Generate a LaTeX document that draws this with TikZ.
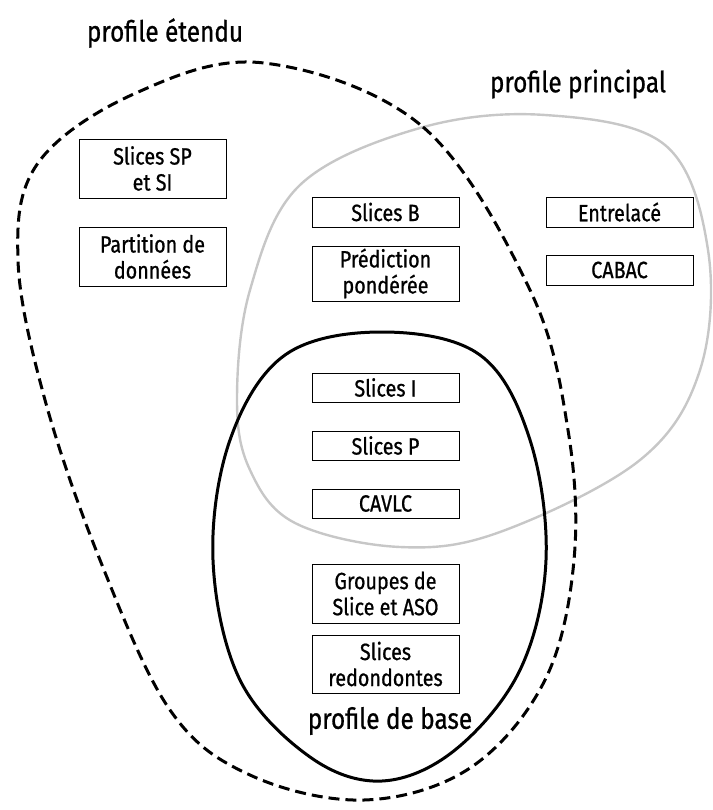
\documentclass[tikz,border=0pt]{standalone}
\usepackage{fontspec}
\setmainfont{Fira Sans}[FakeStretch=0.84, FakeBold=0.8]
\usepackage{tikz}

\begin{document}
\begin{tikzpicture}[x=1pt, y=-1pt,
		feature/.style={draw, thick, fill=white, align=center, inner sep=0pt,
			minimum width=147pt, font=\fontsize{23.5}{26}\selectfont},
		profil/.style={font=\fontsize{29}{30}\selectfont}]
			\useasboundingbox (0,0) rectangle (712,810);
			% Main profile (gray)
			\draw[line width=2.4pt, black!22] plot[smooth cycle, tension=0.6] coordinates {
				(545,115) (665,145) (708,250) (700,370) (640,460) (500,532) (400,547)
				(295,523) (250,470) (237,400) (250,290) (300,185) (420,128)};
			% Extended profile (dashed)
			\draw[line width=3pt, dash pattern=on 11pt off 6pt] plot[smooth cycle, tension=0.6] coordinates {
				(264,63) (423,127) (530,290) (568,430) (574,560) (545,680) (470,768)
				(364,800) (250,775) (170,710) (100,560) (45,400) (18,260) (38,163) (136,93)};
			% Baseline profile (solid)
			\draw[line width=3pt] plot[smooth cycle, tension=0.6] coordinates {
				(382,332) (480,355) (530,440) (546,560) (520,670) (455,750) (382,781)
				(310,757) (240,680) (213,560) (230,440) (285,355)};
			% Boxes
			\node[feature, minimum height=59pt] (spsi) at (152.5,168.5) {Slices SP\\et SI};
			\node[feature, minimum height=59pt] (partition) at (152.5,256.5) {Partition de\\données};
			\node[feature, minimum height=30pt] (sliceb) at (385.5,212) {Slices B};
			\node[feature, minimum height=55pt] (prediction) at (385.5,273.5) {Prédiction\\pondérée};
			\node[feature, minimum height=30pt] (entrelace) at (619.5,212) {Entrelacé};
			\node[feature, minimum height=30pt] (cabac) at (619.5,270) {CABAC};
			\node[feature, minimum height=29pt] (slicei) at (385.5,387.5) {Slices I};
			\node[feature, minimum height=29pt] (slicep) at (385.5,445.5) {Slices P};
			\node[feature, minimum height=29pt] (cavlc) at (385.5,503.5) {CAVLC};
			\node[feature, minimum height=59pt] (groupes) at (385.5,593.5) {Groupes de\\Slice et ASO};
			\node[feature, minimum height=58pt] (redondantes) at (385.5,664) {Slices\\redondontes};
			% Labels
			\node[profil] (etendu) at (165,33) {profile étendu};
			\node[profil] (principal) at (578,84) {profile principal};
			\node[profil] (base) at (390,721) {profile de base};
		\end{tikzpicture}
\end{document}
